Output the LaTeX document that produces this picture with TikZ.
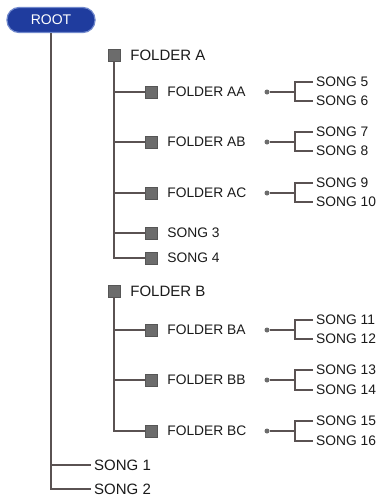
\documentclass[tikz,border=0pt]{standalone}
\usepackage{fontspec}
\setmainfont{Liberation Sans}
\usetikzlibrary{positioning}
\definecolor{rootblue}{HTML}{1F3C9E}
\definecolor{rootrim}{HTML}{7088CC}
\definecolor{linegray}{HTML}{5A5252}
\definecolor{boxgray}{HTML}{6C6C6C}
\definecolor{textgray}{HTML}{1A1A1A}
\tikzset{
  rootbox/.style={fill=rootblue, draw=rootrim, line width=1.2pt, rounded corners=12pt,
    minimum width=88pt, minimum height=25pt, text=white, font=\fontsize{14}{16}\selectfont},
  folderbox/.style={fill=boxgray, draw=boxgray!80!black, minimum size=12pt, inner sep=0pt},
  lbl/.style={anchor=west, inner sep=3pt, text=textgray, font=\fontsize{13.8}{16}\selectfont},
  toplbl/.style={lbl, font=\fontsize{15}{17}\selectfont},
  dotnode/.style={circle, fill=boxgray, minimum size=5pt, inner sep=0pt},
  link/.style={draw=linegray, line width=1.4pt}
}
\begin{document}
\begin{tikzpicture}
    [x=1pt,y=-1pt]
    \useasboundingbox[fill=white] (0,0) rectangle (380,498);
    %root
    \node[rootbox] (root) at (51,20) {ROOT};
    \node[toplbl] (s1) at (91,465) {SONG 1};
    \node[toplbl] (s2) at (91,489) {SONG 2};
    \draw[link] (root.south) |- (s1.west);
    \draw[link] (root.south) |- (s2.west);
    %folder A
    \node[folderbox] (fa) at (114,55) {};
    \node[toplbl, right=7pt of fa] (la) {FOLDER A};
    \node[folderbox] (faa) at (151,92) {};
    \node[lbl, right=7pt of faa] (laa) {FOLDER AA};
    \node[folderbox] (fab) at (151,142) {};
    \node[lbl, right=7pt of fab] (lab) {FOLDER AB};
    \node[folderbox] (fac) at (151,193) {};
    \node[lbl, right=7pt of fac] (lac) {FOLDER AC};
    \node[folderbox] (f3) at (151,233) {};
    \node[lbl, right=7pt of f3] (s3) {SONG 3};
    \node[folderbox] (f4) at (151,258) {};
    \node[lbl, right=7pt of f4] (s4) {SONG 4};
    \draw[link] (fa.south) |- (faa.west);
    \draw[link] (fa.south) |- (fab.west);
    \draw[link] (fa.south) |- (fac.west);
    \draw[link] (fa.south) |- (f3.west);
    \draw[link] (fa.south) |- (f4.west);
    %songs of folder A
    \node[dotnode] (daa) at (267,92) {};
    \coordinate (jaa) at (295,92);
    \node[lbl] (s5) at (313,82) {SONG 5};
    \node[lbl] (s6) at (313,101) {SONG 6};
    \draw[link] (daa) -- (jaa);
    \draw[link] (s5.west) -| (jaa) |- (s6.west);
    \node[dotnode] (dab) at (267,142) {};
    \coordinate (jab) at (295,142);
    \node[lbl] (s7) at (313,132) {SONG 7};
    \node[lbl] (s8) at (313,151) {SONG 8};
    \draw[link] (dab) -- (jab);
    \draw[link] (s7.west) -| (jab) |- (s8.west);
    \node[dotnode] (dac) at (267,193) {};
    \coordinate (jac) at (295,193);
    \node[lbl] (s9) at (313,183) {SONG 9};
    \node[lbl] (s10) at (313,202) {SONG 10};
    \draw[link] (dac) -- (jac);
    \draw[link] (s9.west) -| (jac) |- (s10.west);
    %folder B
    \node[folderbox] (fb) at (114,291) {};
    \node[toplbl, right=7pt of fb] (lb) {FOLDER B};
    \node[folderbox] (fba) at (151,330) {};
    \node[lbl, right=7pt of fba] (lba) {FOLDER BA};
    \node[folderbox] (fbb) at (151,380) {};
    \node[lbl, right=7pt of fbb] (lbb) {FOLDER BB};
    \node[folderbox] (fbc) at (151,431) {};
    \node[lbl, right=7pt of fbc] (lbc) {FOLDER BC};
    \draw[link] (fb.south) |- (fba.west);
    \draw[link] (fb.south) |- (fbb.west);
    \draw[link] (fb.south) |- (fbc.west);
    %songs of folder B
    \node[dotnode] (dba) at (267,330) {};
    \coordinate (jba) at (295,330);
    \node[lbl] (s11) at (313,320) {SONG 11};
    \node[lbl] (s12) at (313,339) {SONG 12};
    \draw[link] (dba) -- (jba);
    \draw[link] (s11.west) -| (jba) |- (s12.west);
    \node[dotnode] (dbb) at (267,380) {};
    \coordinate (jbb) at (295,380);
    \node[lbl] (s13) at (313,370) {SONG 13};
    \node[lbl] (s14) at (313,390) {SONG 14};
    \draw[link] (dbb) -- (jbb);
    \draw[link] (s13.west) -| (jbb) |- (s14.west);
    \node[dotnode] (dbc) at (267,431) {};
    \coordinate (jbc) at (295,431);
    \node[lbl] (s15) at (313,421) {SONG 15};
    \node[lbl] (s16) at (313,441) {SONG 16};
    \draw[link] (dbc) -- (jbc);
    \draw[link] (s15.west) -| (jbc) |- (s16.west);
\end{tikzpicture}
\end{document}
